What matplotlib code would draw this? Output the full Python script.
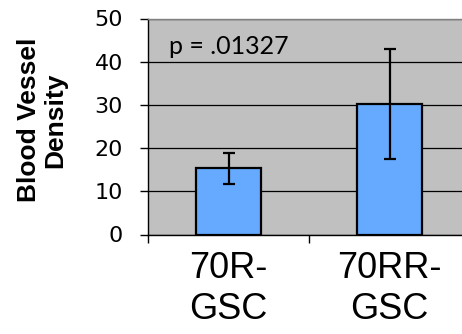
import numpy as np
from matplotlib import pyplot as plt

categories = ['70R-\nGSC', '70RR-\nGSC']
density = [15.3, 30.2]
err = [3.5, 12.7]
y_ticks = [0, 10, 20, 30, 40, 50]
p_label = 'p = .01327'

fig = plt.figure(figsize=(4.62, 3.34), dpi=100)
ax = fig.add_axes([148 / 462, 99.5 / 334, 322 / 462, 216 / 334])
ax.set_facecolor('#c0c0c0')

x = np.arange(len(categories))
ax.bar(x, density, width=0.4, color='#66aaff', edgecolor='black', linewidth=1.6,
       zorder=3)
ax.errorbar(x, density, yerr=err, fmt='none', ecolor='black', elinewidth=1.6,
            capsize=4.3, capthick=1.6, zorder=4)

ax.set_xlim(-0.5, 1.5)
ax.set_ylim(0, 50)
ax.set_yticks(y_ticks)
ax.yaxis.grid(True, color='black', linewidth=0.9, zorder=1)
ax.set_axisbelow(True)

for s in ['top', 'right']:
    ax.spines[s].set_color('#808080')
    ax.spines[s].set_linewidth(1.0)
ax.spines['left'].set_linewidth(1.0)
ax.spines['bottom'].set_linewidth(1.0)

ax.tick_params(axis='y', length=6, width=1, pad=12, labelsize=16)
for lbl in ax.get_yticklabels():
    lbl.set_fontfamily('DejaVu Sans')

ax.set_xticks(x)
ax.set_xticklabels(categories, fontsize=26, fontfamily='Liberation Sans',
                   linespacing=1.2)
ax.tick_params(axis='x', which='major', length=0, pad=12)
ax.set_xticks([-0.5, 0.5, 1.5], minor=True)
ax.tick_params(axis='x', which='minor', length=6, width=1)

fig.text(42 / 462, 1 - 120 / 334, 'Blood Vessel\nDensity', rotation=90,
         fontsize=19, fontweight='bold', fontfamily='Liberation Sans',
         ha='center', va='center', multialignment='center', linespacing=1.15)

ax.text(0.065, 0.87, p_label, transform=ax.transAxes, fontsize=18,
        fontfamily='Lato', va='center', ha='left')

fig.savefig('out.png', dpi=100)
